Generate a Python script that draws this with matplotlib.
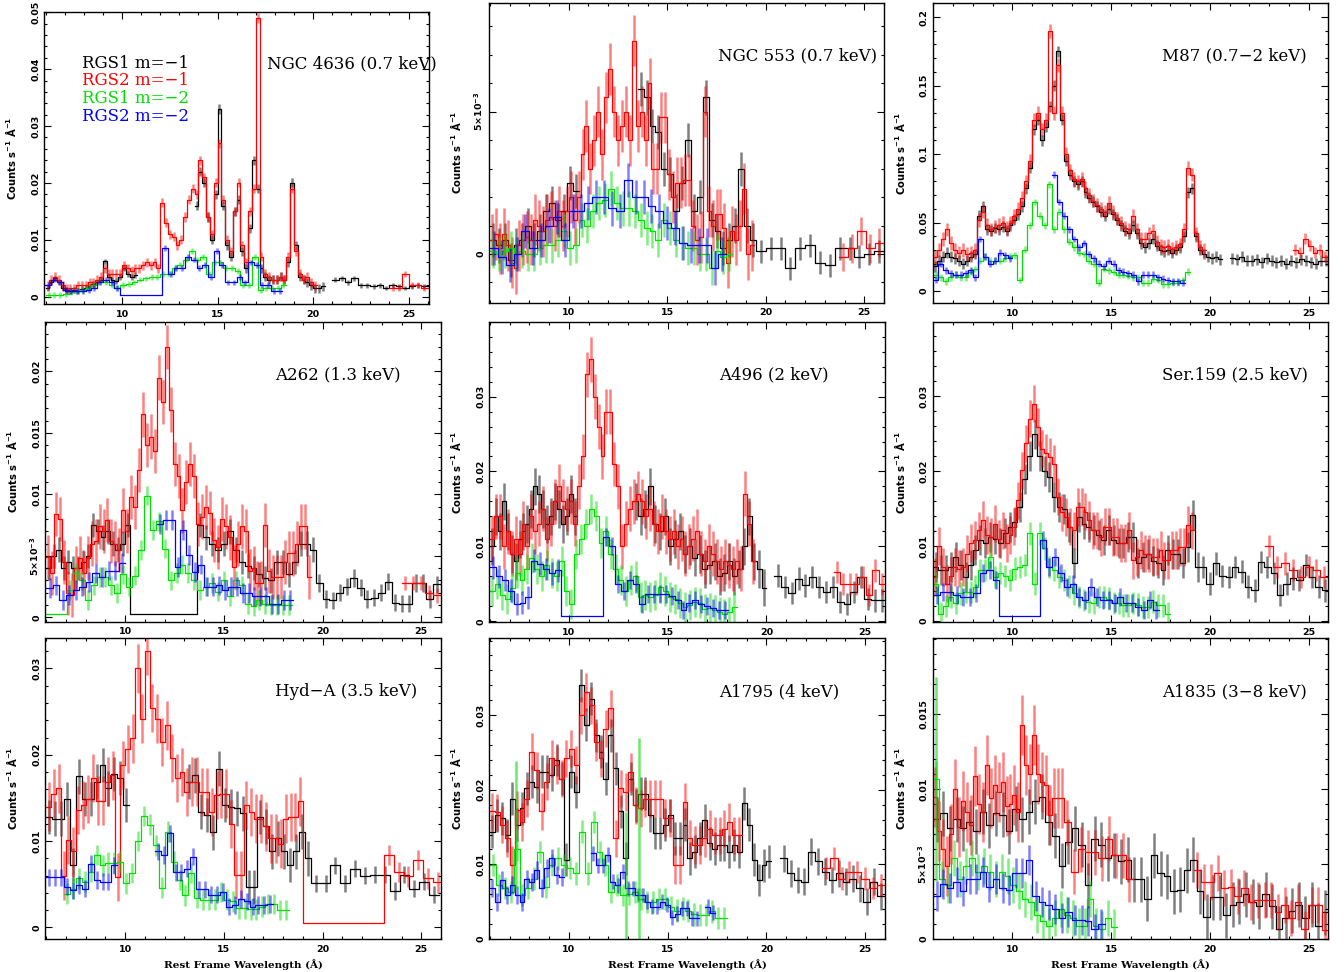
import numpy as np
import matplotlib
matplotlib.use("Agg")
import matplotlib.pyplot as plt
from matplotlib.ticker import MultipleLocator

# all spectra in units of 1e-3 counts s^-1 A^-1
# each series = list of segments (lam_lo, lam_hi, binned values, error)

# NGC 4636
ngc4636_rgs1_m1 = [
    (6.0, 10.8, [1.5, 2.5, 3.2, 2.5, 1.5, 1.0, 1.0, 1.2, 1.0, 1.3, 1.5, 1.8, 2.2, 2.5, 3.0, 6.2, 3.5, 3.0, 2.8, 3.5, 5.0, 4.0, 3.5, 3.8], 0.5),
    (13.8, 20.6, [16, 22, 20, 14, 10, 18, 33, 16, 9, 7, 15, 17, 8, 5, 12, 24, 19, 5, 3.5, 3, 3, 3, 3.5, 3, 6, 20, 9, 3.5, 3, 2.5, 2.0, 1.5, 1.5, 1.8], 0.8),
    (21.0, 26.0, [3.0, 3.2, 2.5, 3.2, 2.0, 2.0, 1.8, 2.0, 1.5, 2.0, 1.8, 1.5, 1.8, 2.0, 1.8], 0.4)]
ngc4636_rgs2_m1 = [
    (6.0, 20.2, [2.0, 3.0, 3.5, 3.0, 2.0, 1.5, 1.5, 1.5, 2.0, 2.0, 2.0, 2.5, 2.5, 3.0, 3.5, 5.0, 4.0, 4.0, 4.0, 4.0,
                 5.5, 5.0, 4.5, 5.0, 5.0, 5.5, 6.0, 5.5, 6.0, 5.0, 16.5, 13, 11, 10.5, 9, 10, 14, 17, 19, 18,
                 24, 21, 14, 11, 20, 27, 17, 10, 8, 15, 20, 9, 6, 15, 19, 49, 7, 4, 3.5, 3, 3, 3.5, 3, 7, 19,
                 8, 4, 3, 3.5, 2.5, 2.0], 0.8),
    (24.0, 26.0, [1.5, 1.5, 4.0, 2.0, 2.0, 1.5], 0.5)]
ngc4636_rgs1_m2 = [
    (6.0, 18.6, [0.3, 0.3, 0.3, 0.5, 0.8, 1.0, 1.2, 1.5, 2.0, 2.5, 2.5, 2.0, 1.5, 2.0, 2.2, 2.5, 3.0, 3.2, 3.5, 3.5, 4.0,
                 4.0, 5.0, 5.5, 6.5, 8.0, 6.5, 7.0, 4.0, 6.0, 6.0, 5.0, 5.0, 4.5, 2.0, 2.0, 7.0, 1.2, 1.5, 1.5, 1.5, 2.0], 0.5)]
ngc4636_rgs2_m2 = [
    (6.0, 9.9, [2.0, 3.0, 2.5, 1.2, 1.0, 1.0, 1.0, 1.2, 1.5, 2.5, 3.0, 2.5, 1.5], 0.5),
    (9.9, 12.1, [0.2], 0.0),
    (12.1, 18.4, [8.5, 4.0, 5.0, 5.0, 7.0, 6.5, 5.0, 5.5, 3.5, 8.0, 5.5, 2.5, 2.5, 3.5, 2.5, 6.0, 5.5, 2.0, 2.0, 1.0, 1.0], 0.5)]

# NGC 553
ngc553_rgs1_m1 = [
    (6.0, 10.5, [0.5, 0.3, 0.5, -0.2, 0.3, 0.5, 1.0, 0.5, 0.8, 1.5, 1.8, 1.2, 1.5, 2.5, 2.2], 0.6),
    (13.5, 19.5, [5.8, 5.5, 4.5, 4.3, 3.0, 2.8, 1.5, 2.5, 4.0, 1.5, 2.0, 5.5, 1.2, 0.8, 0.2, 0.5, 1.0, 3.0, 1.0, 0.5], 0.6),
    (19.5, 26.0, [0.1, 0.2, 0.2, -0.5, 0.2, 0.3, -0.3, -0.4, 0.2, 0.2, -0.1, 0.0, 0.1], 0.4)]
ngc553_rgs2_m1 = [
    (6.0, 19.4, [0.5, 0.7, 0.2, 0.7, 0.3, -0.3, -0.5, 0.3, 0.5, 0.6, 0.5, 1.2, 1.0, 0.8, 1.2, 1.3, 1.0, 1.5, 1.0, 1.5,
                 2.0, 1.2, 2.0, 3.5, 4.5, 3.0, 4.0, 5.0, 3.5, 5.5, 6.5, 5.0, 4.0, 4.5, 5.0, 4.0, 7.5, 4.5, 5.0, 4.0,
                 6.0, 3.0, 3.0, 4.8, 4.8, 2.8, 2.0, 2.5, 2.5, 2.6, 2.6, 1.0, 0.5, 0.6, 5.0, 1.5, 1.0, 1.4, 1.4, 0.9,
                 -0.3, 0.8, 0.5, 1.0, 2.3, 0.0, 0.3], 0.9),
    (23.7, 26.0, [-0.1, 0.2, 0.8, 0.2, 0.4], 0.5)]
ngc553_rgs1_m2 = [
    (6.0, 18.3, [0.1, 0.0, 0.1, 0.2, 0.0, 0.1, 0.0, 0.0, 0.2, 0.3, 0.3, 0.5, 0.8, 0.2, 0.3, 1.2, 1.0, 1.5, 1.8, 1.9, 2.3,
                 1.8, 1.6, 1.6, 1.5, 1.2, 0.9, 0.8, 0.5, 1.2, 0.9, 0.5, 0.4, 0.2, 0.2, 0.0, 0.0, -0.5, 0.1, -0.1, 0.0], 0.6)]
ngc553_rgs2_m2 = [
    (6.0, 18.0, [0.2, -0.1, -0.4, 0.0, 0.8, 0.2, 0.5, 1.0, 1.3, 0.5, 1.5, 1.5, 1.8, 2.0, 2.0, 1.6, 1.5, 2.6, 2.0, 2.0,
                 1.7, 1.5, 1.1, 0.9, 0.4, 0.3, 0.3, 0.3, -0.5, 0.0], 0.6)]

# M87
m87_rgs1_m1 = [
    (6.0, 20.6, [18, 22, 25, 28, 25, 24, 22, 20, 22, 25, 27, 55, 62, 45, 44, 46, 45, 47, 44, 48, 52, 56, 62, 75, 90,
                 118, 125, 110, 120, 135, 150, 175, 125, 95, 85, 80, 78, 80, 72, 68, 65, 62, 58, 55, 60, 56, 52, 48,
                 44, 42, 48, 42, 35, 32, 35, 38, 33, 30, 29, 30, 28, 30, 32, 40, 72, 75, 40, 30, 27, 25, 24, 25, 23], 4.0),
    (21.0, 26.0, [24, 23, 25, 22, 22, 23, 21, 24, 22, 21, 22, 20, 22, 21, 23, 22, 21, 20, 22, 22], 4.0)]
m87_rgs2_m1 = [
    (6.0, 19.8, [25, 30, 38, 45, 35, 30, 28, 30, 27, 28, 30, 52, 58, 48, 45, 47, 48, 50, 46, 50, 55, 60, 68, 80, 95,
                 125, 130, 118, 125, 190, 130, 165, 130, 100, 88, 82, 80, 82, 75, 70, 66, 63, 60, 58, 64, 58, 53, 50,
                 46, 45, 55, 45, 38, 38, 42, 44, 36, 33, 32, 33, 31, 32, 34, 45, 90, 85, 42, 32, 30], 5.0),
    (24.2, 25.95, [30, 28, 38, 33, 28, 30, 25], 4.0)]
m87_rgs1_m2 = [
    (6.0, 19.0, [12, 10, 7, 10, 12, 10, 10, 14, 16, 22, 25, 22, 22, 22, 24, 25, 26, 8, 30, 48, 65, 55, 48, 78, 45, 58,
                 45, 36, 32, 28, 27, 22, 20, 6, 16, 15, 14, 12, 12, 11, 10, 10, 6, 6, 9, 8, 5, 5, 6, 6, 8, 14], 2.5)]
m87_rgs2_m2 = [
    (6.0, 10.0, [8, 20, 15, 13, 12, 12, 13, 15, 10, 38, 25, 20, 22, 28, 26, 24], 2.5),
    (12.0, 18.75, [85, 65, 55, 45, 38, 32, 35, 27, 24, 20, 18, 22, 20, 15, 14, 13, 12, 7, 12, 12, 12, 10, 9, 8, 7, 7, 6], 2.5)]

# A262
a262_rgs1_m1 = [
    (6.0, 10.25, [4.0, 5.0, 5.5, 4.0, 4.5, 4.0, 4.0, 4.5, 5.0, 7.5, 7.0, 6.5, 7.0, 6.0, 5.5, 6.0, 7.5], 1.0),
    (10.25, 13.65, [0.3], 0.0),
    (13.65, 19.65, [7.5, 6.5, 6.0, 5.5, 6.0, 7.0, 5.5, 4.5, 4.2, 4.0, 3.5, 3.2, 3.0, 4.5, 4.5, 3.5, 4.5, 6.0, 6.0, 5.5], 1.0),
    (19.65, 25.95, [2.8, 1.5, 1.4, 2.0, 2.5, 3.2, 2.4, 1.5, 1.6, 2.0, 2.9, 1.2, 1.1, 1.1, 2.8, 2.8, 1.5, 2.7], 0.7)]
a262_rgs2_m1 = [
    (6.0, 19.4, [4.9, 3.6, 8.4, 8.0, 4.5, 2.0, 1.8, 4.0, 4.8, 3.6, 4.8, 6.0, 6.2, 7.4, 7.0, 7.9, 6.2, 6.0, 5.5, 8.7,
                 7.0, 9.8, 9.0, 12.0, 16.5, 14.0, 14.7, 13.5, 19.5, 17.5, 22.0, 16.9, 12.5, 11.5, 8.7, 11.0, 12.5,
                 11.5, 7.6, 8.2, 9.0, 8.5, 6.3, 5.7, 8.0, 7.4, 6.5, 4.1, 6.0, 7.4, 7.0, 3.8, 4.0, 2.8, 2.8, 7.5, 3.8,
                 3.3, 3.3, 3.3, 4.5, 5.2, 5.2, 6.0, 7.4, 7.4, 3.3], 1.8),
    (24.0, 26.0, [2.8, 2.8, 2.8, 2.0, 1.8], 0.6)]
a262_rgs1_m2 = [
    (6.0, 7.05, [0.3], 0.0),
    (7.05, 18.45, [2.2, 3.6, 3.0, 1.4, 2.6, 3.3, 3.3, 2.6, 2.0, 3.5, 2.5, 3.4, 5.5, 9.9, 7.1, 7.8, 5.6, 3.0, 3.6, 4.3,
                   3.6, 3.0, 2.2, 2.5, 2.8, 2.1, 3.0, 1.7, 3.0, 2.6, 1.1, 0.9, 1.4, 1.1, 1.0, 1.0, 1.0, 1.0], 0.8)]
a262_rgs2_m2 = [
    (6.0, 10.0, [2.4, 2.6, 1.4, 1.8, 2.2, 2.5, 2.9, 3.6, 3.3, 3.8, 3.8, 4.4], 0.8),
    (11.6, 18.5, [7.6, 7.9, 7.9, 4.1, 7.1, 5.1, 3.7, 4.3, 2.5, 2.5, 2.6, 2.2, 2.5, 2.5, 2.0, 2.0, 1.7, 1.7, 1.7, 1.1,
                  1.1, 1.4, 1.4], 0.8)]

# A496
a496_rgs1_m1 = [
    (6.0, 10.4, [10, 14, 12, 16, 12, 9, 8, 11, 12, 13, 15, 18, 17, 15, 13, 14, 16, 15, 13, 14, 17, 14], 2.5),
    (13.25, 20.0, [16, 14, 15, 18, 13, 12, 14, 10, 11, 12, 9, 10, 8.5, 9, 7, 7.5, 8, 6, 6.5, 8, 6, 7, 10, 14, 8, 7, 4.5], 2.5),
    (20.4, 26.0, [6.1, 4.6, 3.8, 5.7, 4.8, 5.9, 4.6, 3.9, 4.6, 2.6, 2.3, 3.9, 5.9, 3.0, 2.8, 2.8], 1.5)]
a496_rgs2_m1 = [
    (6.0, 19.4, [11, 14, 14, 10, 12, 9, 11, 9, 13, 10, 14, 12, 13, 15, 11, 13, 16, 18, 16, 15, 16, 13, 18, 22, 33, 35,
                 30, 26, 22, 28, 28, 21, 18, 10, 13, 15, 16, 17, 16, 14, 15, 13, 12, 14, 12, 11, 12, 10, 11, 9, 10,
                 11, 12, 9, 8, 10, 9, 8, 7, 8, 7.5, 7, 8, 7, 17, 13, 8], 3.0),
    (23.4, 26.0, [6.6, 5.0, 5.0, 5.0, 5.9, 3.5, 6.8, 5.0], 1.5)]
a496_rgs1_m2 = [
    (6.0, 18.5, [4.0, 5.0, 3.5, 3.0, 4.5, 6.5, 5.5, 7.0, 8.5, 7.0, 6.0, 7.5, 6.5, 6.0, 8.0, 4.0, 2.3, 9.0, 11.0, 13.0,
                 15.0, 14.0, 10.5, 12.0, 9.0, 7.0, 5.5, 4.1, 5.5, 6.0, 3.2, 3.5, 3.2, 3.5, 4.6, 4.0, 3.2, 3.0, 2.5,
                 1.9, 2.2, 2.6, 2.4, 1.7, 1.8, 1.5, 1.2, 1.0, 1.2, 1.9], 2.0)]
a496_rgs2_m2 = [
    (6.0, 9.6, [7.2, 6.0, 5.5, 4.1, 2.3, 2.5, 3.2, 8.1, 7.7, 7.0, 6.4, 6.8], 1.5),
    (9.6, 11.75, [0.7], 0.0),
    (11.75, 18.05, [11.2, 10.0, 5.0, 4.1, 5.5, 5.0, 2.3, 3.7, 3.7, 3.7, 3.7, 3.4, 2.8, 1.5, 2.5, 2.8, 2.3, 2.0, 1.8,
                    1.5, 1.5], 1.2)]

# Ser 159
ser159_rgs1_m1 = [
    (6.0, 19.5, [7.2, 6.8, 6.8, 7.2, 8.6, 7.5, 5.9, 7.5, 9.5, 10.8, 10.4, 11.2, 11.0, 10.4, 11.7, 12.6, 13.2, 15.2,
                 19.0, 22.0, 25.0, 22.0, 20.0, 19.2, 16.6, 15.2, 15.0, 12.6, 7.7, 13.9, 13.0, 12.6, 12.1, 11.5, 10.8,
                 12.1, 10.8, 10.4, 10.4, 11.2, 11.2, 7.7, 8.6, 9.0, 8.0, 7.7, 6.8, 9.5, 9.0, 9.0, 7.7, 9.9, 14.1, 7.2], 2.0),
    (19.5, 26.0, [7.2, 5.0, 7.7, 6.0, 5.9, 7.2, 6.6, 4.6, 4.1, 7.9, 7.2, 6.4, 3.5, 5.0, 5.7, 5.5, 7.5, 5.9, 4.6, 4.1], 1.5)]
ser159_rgs2_m1 = [
    (6.0, 19.2, [5.9, 10.0, 7.2, 5.0, 6.0, 7.2, 7.0, 7.2, 9.0, 10.4, 10.8, 12.1, 13.5, 11.5, 11.2, 13.0, 11.0, 12.1,
                 10.4, 11.5, 12.6, 16.1, 20.1, 23.7, 27.0, 29.0, 25.9, 23.0, 22.4, 21.9, 21.0, 16.6, 14.5, 13.9, 12.6,
                 12.1, 15.2, 15.2, 14.6, 13.5, 12.1, 12.1, 11.2, 12.6, 12.6, 11.2, 11.2, 10.4, 10.4, 12.1, 8.1, 8.5,
                 9.5, 9.0, 9.0, 8.6, 8.6, 9.5, 8.1, 8.1, 9.5, 9.5, 9.9, 9.9, 12.8, 12.1], 2.5),
    (22.8, 26.0, [10.0, 7.2, 7.7, 6.8, 5.9, 7.2, 6.8, 5.9], 1.5)]
ser159_rgs1_m2 = [
    (6.0, 18.0, [5.0, 1.0, 2.0, 3.2, 2.4, 3.7, 3.9, 3.9, 4.6, 6.8, 6.8, 8.6, 5.9, 6.4, 6.0, 5.5, 7.0, 7.2, 7.5, 11.7,
                 5.0, 11.7, 9.7, 7.2, 6.8, 5.9, 5.5, 4.6, 3.7, 3.2, 2.8, 2.6, 2.4, 3.2, 3.2, 3.0, 2.4, 2.4, 2.1, 2.1,
                 2.4, 2.2, 1.9, 1.9, 2.6, 2.1, 2.1, 1.0], 1.5)]
ser159_rgs2_m2 = [
    (6.0, 9.34, [3.5, 3.9, 3.9, 3.5, 3.2, 3.2, 3.7, 6.4, 6.8, 5.5], 1.2),
    (9.34, 11.42, [0.7], 0.0),
    (11.42, 17.42, [10.8, 7.2, 8.6, 6.4, 4.6, 5.0, 3.2, 2.8, 4.6, 3.2, 2.8, 2.8, 2.4, 3.2, 2.4, 2.4, 1.9, 1.5, 2.8, 1.5], 1.2)]

# Hydra A
hyda_rgs1_m1 = [
    (6.0, 10.2, [12.8, 12.6, 12.6, 14.9, 7.2, 17.5, 14.9, 14.9, 16.9, 18.8, 16.1, 17.8, 17.3, 14.2], 2.0),
    (13.1, 19.4, [16.9, 17.6, 13.4, 13.0, 11.0, 18.4, 14.2, 14.0, 13.8, 13.2, 4.7, 4.7, 12.8, 11.7, 8.8, 10.3, 8.8,
                  7.2, 8.8, 11.1, 8.0], 2.0),
    (19.4, 25.9, [5.1, 5.1, 7.2, 5.1, 6.8, 6.0, 6.1, 6.1, 4.2, 6.1, 4.5, 5.3, 3.8], 1.0)]
hyda_rgs2_m1 = [
    (6.0, 19.0, [14.0, 15.5, 16.1, 6.0, 10.1, 8.8, 13.6, 14.2, 14.9, 17.3, 14.7, 14.7, 16.9, 17.6, 5.8, 18.8, 20.7,
                 21.9, 30.0, 24.2, 32.0, 25.4, 24.2, 21.5, 23.4, 19.6, 17.3, 18.0, 15.7, 16.9, 16.9, 15.7, 15.7, 13.4,
                 15.3, 15.5, 15.5, 12.0, 6.1, 6.1, 14.2, 13.4, 12.6, 12.6, 11.7, 10.3, 10.3, 9.7, 12.6, 12.8, 12.8, 14.6], 2.8),
    (19.0, 23.1, [0.5], 0.0),
    (23.1, 26.1, [8.4, 6.4, 5.9, 7.8, 5.7, 5.2], 1.2)]
hyda_rgs1_m2 = [
    (6.9, 18.3, [3.9, 4.5, 5.7, 5.3, 6.4, 8.4, 7.2, 7.5, 7.5, 7.6, 5.1, 6.3, 10.0, 12.9, 11.9, 9.5, 4.6, 11.1, 7.6,
                 5.5, 3.7, 6.3, 3.4, 3.2, 3.2, 3.2, 4.1, 3.2, 3.0, 2.2, 2.2, 2.1, 2.1, 2.4, 2.7, 2.7, 2.0, 2.0], 1.2)]
hyda_rgs2_m2 = [
    (6.0, 9.6, [5.8, 5.8, 5.8, 4.7, 4.3, 4.9, 4.5, 7.4, 5.5, 5.3, 5.3, 7.2], 1.0),
    (11.5, 17.5, [8.8, 8.4, 10.9, 6.4, 6.4, 6.8, 8.2, 4.4, 4.4, 3.8, 3.8, 4.1, 2.4, 2.6, 3.3, 3.0, 2.4, 2.6, 2.6, 2.7], 1.0)]

# A1795
a1795_rgs1_m1 = [
    (6.0, 20.25, [14.4, 16.6, 16.2, 13.9, 18.8, 15.3, 17.5, 20.2, 21.1, 20.4, 22.4, 22.4, 22.0, 24.0, 21.5, 10.6,
                  22.4, 19.7, 34.0, 28.7, 32.2, 27.3, 25.1, 21.5, 27.3, 22.9, 17.1, 10.8, 21.5, 17.9, 19.5, 19.5,
                  16.6, 14.2, 14.2, 15.3, 16.6, 13.5, 13.5, 15.3, 10.8, 11.7, 13.5, 15.9, 12.8, 12.1, 12.6, 12.6,
                  11.7, 12.6, 11.7, 18.2, 15.3, 10.6, 7.9, 9.9, 10.4], 2.2),
    (20.7, 25.95, [10.8, 8.8, 7.9, 7.7, 11.7, 10.4, 9.0, 7.9, 8.8, 7.7, 8.1, 6.8, 5.0, 7.7, 5.7], 1.8)]
a1795_rgs2_m1 = [
    (6.0, 18.75, [17.1, 17.0, 15.3, 13.5, 9.9, 17.3, 15.7, 18.8, 25.1, 22.6, 17.1, 21.1, 24.2, 23.3, 21.5, 24.2,
                  25.5, 23.3, 30.0, 33.1, 31.3, 26.4, 24.2, 28.2, 30.9, 13.5, 20.2, 19.7, 22.4, 17.9, 17.5, 18.8,
                  18.8, 18.8, 18.8, 16.2, 16.2, 9.9, 9.9, 18.4, 13.5, 12.6, 12.6, 13.5, 14.8, 13.9, 13.9, 14.8, 15.7,
                  13.9, 13.9], 2.5),
    (22.8, 26.0, [9.5, 10.8, 8.1, 9.0, 9.0, 8.1, 6.8, 7.2], 1.5)]
a1795_rgs1_m2 = [
    (6.0, 18.0, [9.9, 7.2, 6.8, 6.3, 12.0, 5.9, 6.8, 8.1, 11.7, 7.0, 9.9, 10.8, 9.9, 9.5, 8.8, 14.4, 8.8, 15.7, 11.7,
                 9.9, 6.3, 7.2, 5.9, 6.0, 6.3, 5.4, 5.0, 5.0, 5.4, 5.4, 4.3, 3.8, 4.1, 3.8, 3.3, 3.2, 3.2, 3.7, 2.8, 2.8], 1.5)]
a1795_rgs2_m2 = [
    (6.0, 9.75, [6.8, 5.0, 7.9, 5.9, 7.2, 5.9, 5.0, 8.1, 7.7, 9.2, 6.8, 9.5, 10.8, 8.6, 8.3], 1.2),
    (11.1, 16.6, [11.5, 9.9, 9.9, 11.3, 7.7, 7.2, 9.0, 6.8, 6.8, 5.9, 5.9, 5.0, 4.3, 4.3, 5.0, 4.6, 2.9, 3.4, 4.1,
                  4.1, 2.8, 2.8], 1.0),
    (16.9, 17.4, [4.3, 3.5], 1.0)]
# single green bins with very large errors (lambda, value, error)
a1795_green_bigerr = [(7.3, 15.3, 8.5), (12.9, 8.5, 8.5), (13.57, 13.5, 13.5)]

# A1835
a1835_rgs1_m1 = [
    (6.0, 26.0, [8.0, 8.4, 7.4, 8.0, 7.4, 7.8, 7.2, 8.5, 7.6, 8.4, 8.3, 7.2, 8.7, 8.0, 8.5, 9.2, 9.5, 7.8, 6.9, 4.9,
                 6.5, 7.4, 6.3, 3.6, 6.7, 6.3, 5.4, 5.6, 5.2, 5.3, 4.0, 4.0, 2.7, 5.6, 4.4, 4.2, 3.2, 3.3, 4.6, 5.3,
                 3.2, 1.5, 2.8, 2.8, 1.6, 2.3, 2.5, 3.0, 2.5, 2.2, 3.0, 2.2, 0.7, 1.4, 1.9, 2.3, 1.4, 2.3, 0.9, 1.8], 1.5)]
a1835_rgs2_m1 = [
    (6.0, 12.6, [9.5, 7.2, 6.0, 4.9, 7.0, 10.0, 7.5, 9.2, 8.5, 7.6, 10.9, 9.0, 8.5, 11.6, 9.4, 10.3, 9.8, 10.5, 8.9,
                 9.0, 9.6, 8.5, 14.3, 11.6, 11.0, 13.6, 11.0, 10.5, 10.3, 8.3, 9.4, 9.4, 9.4], 2.0),
    (12.6, 16.1, [7.8, 4.5, 6.0, 5.8, 5.8, 5.4, 6.7, 5.6, 5.6, 4.0], 1.5),
    (19.2, 26.0, [4.6, 3.8, 3.8, 4.4, 3.4, 3.5, 2.9, 3.4, 2.5, 2.6, 2.6, 2.6, 1.8, 2.3, 1.4, 2.5, 0.7, 2.3, 2.3, 0.6], 1.2)]
a1835_rgs1_m2 = [
    (6.0, 15.3, [10.7, 4.0, 3.6, 5.4, 4.0, 4.9, 5.4, 4.5, 4.9, 4.5, 4.0, 4.5, 4.2, 3.6, 3.2, 2.7, 2.5, 1.6, 1.2, 0.9,
                 1.4, 2.0, 1.6, 1.4, 0.9, 0.9, 2.7, 0.9, 0.7, 1.4, 0.8], 1.2)]
a1835_rgs2_m2 = [
    (6.0, 14.67, [2.9, 3.7, 3.4, 3.8, 3.2, 4.0, 4.0, 4.5, 3.5, 4.0, 3.4, 3.3, 4.4, 4.4, 5.3, 2.9, 2.5, 2.3, 2.0, 1.4,
                  1.8, 1.3, 1.3, 1.2, 0.7, 1.0], 1.0)]
a1835_green_bigerr = [(6.15, 10.7, 6.8)]

titles = ["NGC 4636 (0.7 keV)", "NGC 553 (0.7 keV)", "M87 (0.7\u22122 keV)",
          "A262 (1.3 keV)", "A496 (2 keV)", "Ser.159 (2.5 keV)",
          "Hyd\u2212A (3.5 keV)", "A1795 (4 keV)", "A1835 (3\u22128 keV)"]
legend_labels = ["RGS1 m=\u22121", "RGS2 m=\u22121", "RGS1 m=\u22122", "RGS2 m=\u22122"]

plt.rcParams['font.family'] = 'DejaVu Sans'
plt.rcParams['mathtext.default'] = 'regular'

colors = ['#000000', '#ff0000', '#00e000', '#0000ff']
W, H = 1344, 972
fig = plt.figure(figsize=(W / 100, H / 100), dpi=100)


def add_ax(l, r, t, b):
    return fig.add_axes([l / W, 1 - b / H, (r - l) / W, (b - t) / H])


def draw(ax, segs, color):
    xs, ys, cx, lo, hi = [], [], [], [], []
    prev = None
    for x0, x1, vals, err in segs:
        if prev is not None and abs(x0 - prev) > 1e-6:
            xs.append(np.nan)
            ys.append(np.nan)
        edges = np.linspace(x0, x1, len(vals) + 1)
        for i, v in enumerate(vals):
            xs += [edges[i], edges[i + 1]]
            ys += [v, v]
            if err > 0:
                cx.append(0.5 * (edges[i] + edges[i + 1]))
                lo.append(v - err)
                hi.append(v + err)
        prev = x1
    if cx:
        ax.vlines(cx, lo, hi, color=color, alpha=0.5, lw=1.8)
    ax.plot(xs, ys, color=color, lw=0.9)


t5 = '5\u00d710$^{-3}$'
panels = [
    # rect(l, r, t, b), xlim, ylim, yticks, ylabels, minor, series
    ((44.3, 429, 12.3, 304), (5.93, 26.07), (-1.3, 50), [0, 10, 20, 30, 40, 50],
     ['0', '0.01', '0.02', '0.03', '0.04', '0.05'], 2,
     [ngc4636_rgs1_m1, ngc4636_rgs2_m1, ngc4636_rgs1_m2, ngc4636_rgs2_m2]),
    ((489.3, 884, 2.7, 302.7), (5.97, 26.0), (-1.71, 8.83), [0, 5], ['0', t5], 1,
     [ngc553_rgs1_m1, ngc553_rgs2_m1, ngc553_rgs1_m2, ngc553_rgs2_m2]),
    ((932.7, 1328.3, 2.7, 303.3), (5.96, 26.0), (-9.0, 210.5), [0, 50, 100, 150, 200],
     ['0', '0.05', '0.1', '0.15', '0.2'], 10,
     [m87_rgs1_m1, m87_rgs2_m1, m87_rgs1_m2, m87_rgs2_m2]),
    ((45.3, 441, 321.7, 621.7), (5.95, 26.0), (-0.35, 24.04), [0, 5, 10, 15, 20],
     ['0', t5, '0.01', '0.015', '0.02'], 1,
     [a262_rgs1_m1, a262_rgs2_m1, a262_rgs1_m2, a262_rgs2_m2]),
    ((489.3, 885, 321.7, 622), (5.97, 26.0), (-0.1, 40.0), [0, 10, 20, 30],
     ['0', '0.01', '0.02', '0.03'], 2,
     [a496_rgs1_m1, a496_rgs2_m1, a496_rgs1_m2, a496_rgs2_m2]),
    ((932.7, 1328.3, 321.7, 622), (5.96, 26.0), (-0.1, 39.9), [0, 10, 20, 30],
     ['0', '0.01', '0.02', '0.03'], 2,
     [ser159_rgs1_m1, ser159_rgs2_m1, ser159_rgs1_m2, ser159_rgs2_m2]),
    ((45.3, 441, 638.3, 939), (5.95, 26.0), (-1.35, 33.5), [0, 10, 20, 30],
     ['0', '0.01', '0.02', '0.03'], 2,
     [hyda_rgs1_m1, hyda_rgs2_m1, hyda_rgs1_m2, hyda_rgs2_m2]),
    ((489.3, 885, 638.3, 939), (5.97, 26.0), (0, 40.3), [0, 10, 20, 30],
     ['0', '0.01', '0.02', '0.03'], 2,
     [a1795_rgs1_m1, a1795_rgs2_m1, a1795_rgs1_m2, a1795_rgs2_m2]),
    ((932.7, 1328.3, 638.3, 939), (5.96, 26.0), (0, 20.05), [0, 5, 10, 15],
     ['0', t5, '0.01', '0.015'], 1,
     [a1835_rgs1_m1, a1835_rgs2_m1, a1835_rgs1_m2, a1835_rgs2_m2]),
]
bigerr = {7: a1795_green_bigerr, 8: a1835_green_bigerr}

for k, (rect, xl, yl, yt, ylab, ymin, series) in enumerate(panels):
    ax = add_ax(*rect)
    for s, c in zip(series, colors):
        draw(ax, s, c)
    if k in bigerr:
        for x, v, e in bigerr[k]:
            ax.vlines(x, v - e, v + e, color=colors[2], alpha=0.6, lw=1.8)
    ax.set_xlim(*xl)
    ax.set_ylim(*yl)
    ax.xaxis.set_major_locator(MultipleLocator(5))
    ax.xaxis.set_minor_locator(MultipleLocator(1))
    ax.set_yticks(yt)
    ax.set_yticklabels(ylab)
    ax.yaxis.set_minor_locator(MultipleLocator(ymin))
    ax.tick_params(which='both', direction='in', top=True, right=True, width=0.8, labelsize=6.8)
    ax.tick_params(which='major', length=5)
    ax.tick_params(which='minor', length=2.5)
    ax.tick_params(axis='y', labelrotation=90, pad=3)
    ax.tick_params(axis='x', pad=4)
    for lab in ax.get_yticklabels():
        lab.set_va('center')
        lab.set_fontweight('bold')
    for lab in ax.get_xticklabels():
        lab.set_fontweight('bold')
    for sp in ax.spines.values():
        sp.set_linewidth(1.0)
    ax.set_ylabel('Counts s$^{-1}$ \u00c5$^{-1}$', fontsize=7.2, fontweight='bold')
    ax.yaxis.set_label_coords(-26 / (rect[1] - rect[0]), 0.5)
    if k >= 6:
        ax.set_xlabel('Rest Frame Wavelength (\u00c5)', fontsize=7.5, fontweight='bold',
                      family='DejaVu Serif', labelpad=4)
    ax.text(0.58, 0.823, titles[k], transform=ax.transAxes, family='DejaVu Serif',
            fontsize=12, va='center', ha='left')
    if k == 0:
        for j, (lbl, c) in enumerate(zip(legend_labels, colors)):
            ax.text(0.099, 0.825 - j * 0.0605, lbl, color=c, transform=ax.transAxes,
                    family='DejaVu Serif', fontsize=12, va='center', ha='left')

fig.savefig('out.png', dpi=100)
